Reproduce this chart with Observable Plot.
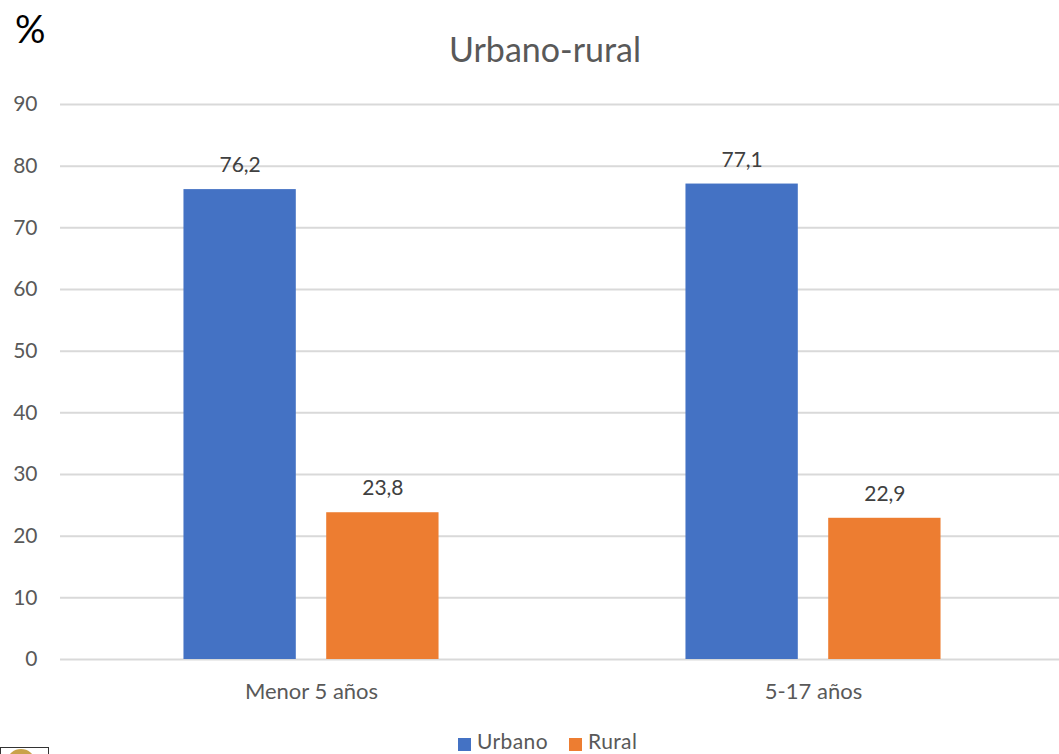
<!DOCTYPE html>
<html><head><meta charset="utf-8">
<script src="https://cdn.jsdelivr.net/npm/d3@7"></script>
<script src="https://cdn.jsdelivr.net/npm/@observablehq/plot@0.6"></script>
<style>
html,body{margin:0;padding:0;background:#fff;width:1059px;height:754px;overflow:hidden;font-family:Lato,sans-serif;position:relative}
#pct{position:absolute;left:15px;top:6px;font-size:38px;line-height:44px;color:#000}
#title{position:absolute;left:0;width:1090px;top:29px;text-align:center;font-size:34px;line-height:40px;color:#595959}
#chart{position:absolute;left:0;top:0}
#legend{position:absolute;left:458px;top:731px;height:20px;display:flex;align-items:center;font-size:21px;letter-spacing:.4px;line-height:20px;color:#595959}
#legend i{display:inline-block;width:13px;height:13px;margin-right:6px;position:relative;top:3px}
#legend span{margin-right:21px;display:flex;align-items:center;height:20px}
#logo{position:absolute;left:0;top:747px;width:47px;height:12px;border:1px solid #333;overflow:hidden}
#logo b{position:absolute;left:7px;top:1px;width:26px;height:22px;border-radius:50%;background:#c9a24a}
</style></head><body>
<div id="chart"></div>
<div id="pct">%</div>
<div id="title">Urbano-rural</div>
<div id="legend"></div>
<div id="logo"><b></b></div>
<script>
const groups = ["Menor 5 años", "5-17 años"];
const series = ["Urbano", "Rural"];
const urbano = [76.2, 77.1];
const rural = [23.8, 22.9];
const colors = ["#4472C4", "#ED7D31"];
const yTicks = [0, 10, 20, 30, 40, 50, 60, 70, 80, 90];

const rows = groups.flatMap((g, i) => [
  {group: g, serie: series[0], value: urbano[i]},
  {group: g, serie: series[1], value: rural[i]}
]);
const fmt = v => v.toFixed(1).replace(".", ",");

const plot = Plot.plot({
  width: 1059, height: 710,
  marginLeft: 60, marginRight: -5, marginTop: 104, marginBottom: 51,
  style: {fontFamily: "Lato, sans-serif", fontSize: "18px", color: "#595959", background: "transparent"},
  fx: {domain: groups, padding: 0, label: null},
  x: {domain: series, paddingInner: 0.213, paddingOuter: 0.865, axis: null, round: false},
  y: {domain: [0, 90], label: null},
  color: {domain: series, range: colors},
  marks: [
    Plot.ruleY(yTicks, {stroke: "#d9d9d9", strokeWidth: 2}),
    Plot.axisY({ticks: yTicks, tickSize: 0, tickPadding: 23, label: null, fontSize: 21, fill: "#595959"}),
    Plot.axisFx({anchor: "bottom", tickSize: 0, tickPadding: 24, label: null, fontSize: 22, fill: "#595959"}),
    Plot.barY(rows, {fx: "group", x: "serie", y: "value", fill: "serie"}),
    Plot.text(rows, {fx: "group", x: "serie", y: "value", text: d => fmt(d.value), dy: -24, fontSize: 21, fill: "#404040"})
  ]
});
document.getElementById("chart").appendChild(plot);

const legend = document.getElementById("legend");
series.forEach((s, i) => {
  const el = document.createElement("span");
  const sw = document.createElement("i");
  sw.style.background = colors[i];
  el.appendChild(sw);
  el.appendChild(document.createTextNode(s));
  legend.appendChild(el);
});
</script>
</body></html>
